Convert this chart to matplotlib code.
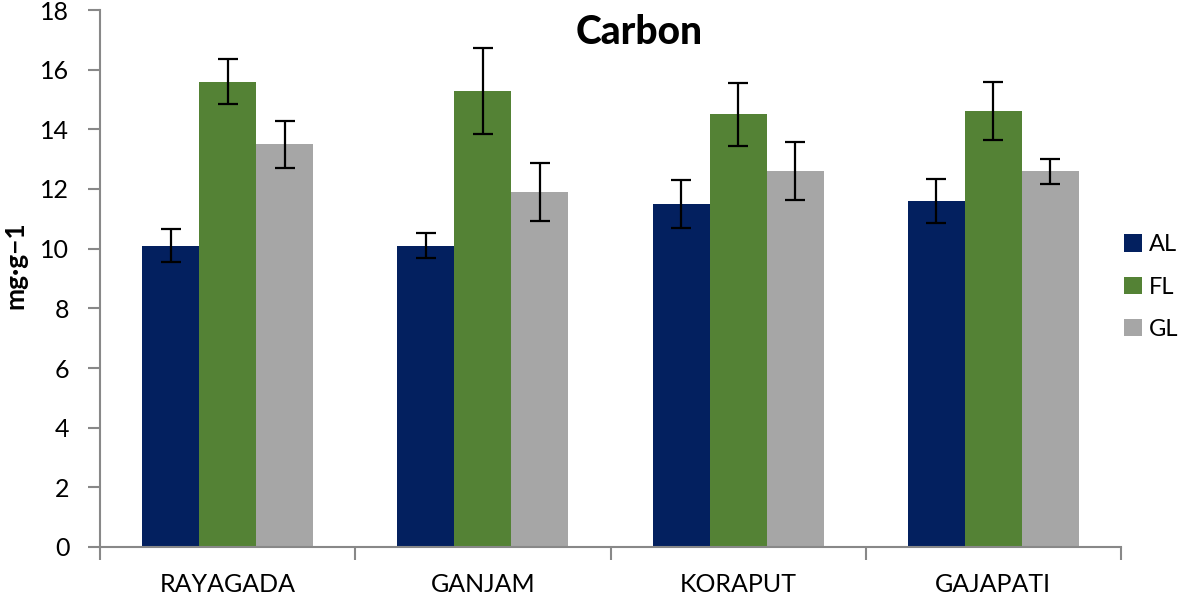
import matplotlib
matplotlib.use("Agg")
import matplotlib.pyplot as plt
import numpy as np

plt.rcParams['font.family'] = ['Lato', 'DejaVu Sans']

categories = ["RAYAGADA", "GANJAM", "KORAPUT", "GAJAPATI"]
series = ["AL", "FL", "GL"]
al_vals = [10.1, 10.1, 11.5, 11.6]
fl_vals = [15.6, 15.3, 14.5, 14.6]
gl_vals = [13.5, 11.9, 12.6, 12.6]
al_err = [0.55, 0.42, 0.80, 0.75]
fl_err = [0.75, 1.44, 1.05, 0.97]
gl_err = [0.78, 0.97, 0.97, 0.42]
yticks = [0, 2, 4, 6, 8, 10, 12, 14, 16, 18]

colors = ["#03205f", "#548235", "#a6a6a6"]

fig = plt.figure(figsize=(11.81, 5.97), dpi=100)
ax = fig.add_axes([100/1181, 50/597, 1021/1181, 537/597])

x = np.arange(len(categories))
w = 0.223
vals = [al_vals, fl_vals, gl_vals]
errs = [al_err, fl_err, gl_err]
for i, (v, e, c, s) in enumerate(zip(vals, errs, colors, series)):
    ax.bar(x + (i - 1) * w, v, width=w, color=c, label=s, zorder=2)
    ax.errorbar(x + (i - 1) * w, v, yerr=e, fmt='none', ecolor='black',
                elinewidth=1.6, capsize=7, capthick=1.6, zorder=3)

ax.set_xlim(-0.5, len(categories) - 0.5)
ax.set_ylim(0, 18)
ax.set_yticks(yticks)
ax.set_yticklabels([str(t) for t in yticks], fontsize=18)
ax.set_xticks(np.arange(len(categories) + 1) - 0.5)
ax.set_xticklabels([])
ax.set_xticks(x, minor=True)
ax.set_xticklabels(categories, minor=True, fontsize=18)
ax.tick_params(axis='x', which='major', length=9, width=1.5, color='#888888', direction='out')
ax.tick_params(axis='x', which='minor', length=0, pad=19)
ax.tick_params(axis='y', length=9, width=1.5, color='#888888', direction='out', pad=13)

for sp in ['top', 'right']:
    ax.spines[sp].set_visible(False)
for sp in ['left', 'bottom']:
    ax.spines[sp].set_color('#888888')
    ax.spines[sp].set_linewidth(1.5)

fig.text(639/1181, 1 - 33/597, "Carbon", fontsize=28, fontweight='black',
         ha='center', va='center')
fig.text(15/1181, 1 - 265/597, "mg·g−1", fontsize=19, fontweight='bold',
         rotation=90, ha='center', va='center')

leg = fig.legend(loc='center left', bbox_to_anchor=(1124/1181, 1 - 287/597),
                 frameon=False, fontsize=17, handlelength=0.75, handleheight=0.75,
                 handletextpad=0.3, labelspacing=0.9, borderaxespad=0, borderpad=0)

fig.savefig("out.png", dpi=100)
